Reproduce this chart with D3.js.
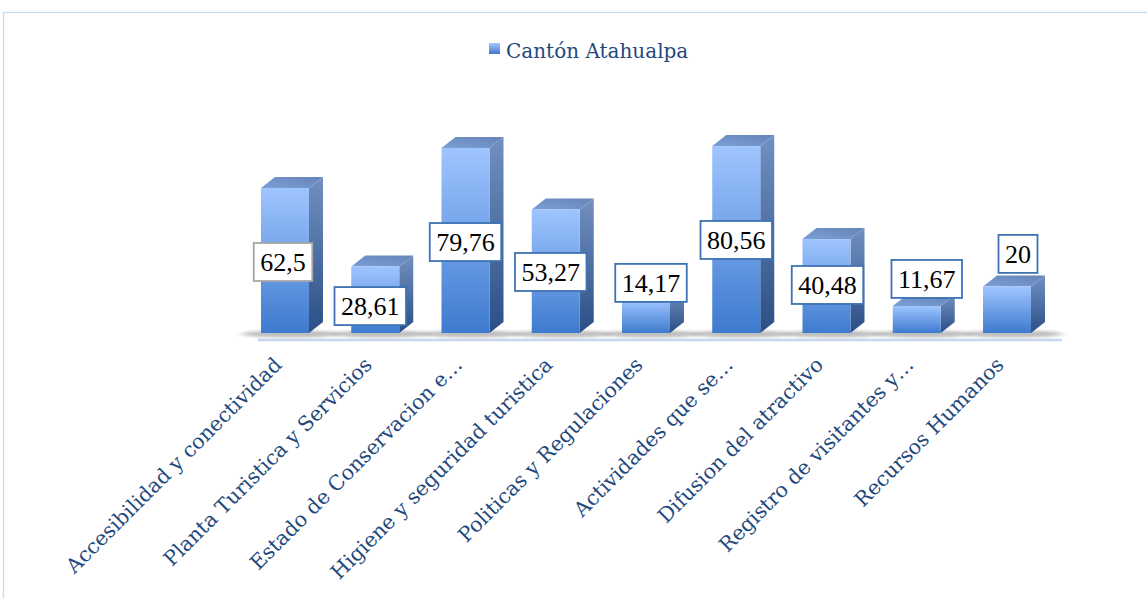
<!DOCTYPE html>
<html>
<head>
<meta charset="utf-8">
<script src="https://cdn.jsdelivr.net/npm/d3@7"></script>
<style>
  html, body { margin: 0; padding: 0; background: #fff; }
  svg { display: block; }
</style>
</head>
<body>
<svg id="chart" width="1147" height="598"></svg>
<script>
// ---- data ----
const categories = [
  "Accesibilidad y conectividad",
  "Planta Turistica y Servicios",
  "Estado de Conservacion e\u2026",
  "Higiene y seguridad turistica",
  "Politicas y Regulaciones",
  "Actividades que se\u2026",
  "Difusion del atractivo",
  "Registro de visitantes y\u2026",
  "Recursos Humanos"
];
const values = [62.5, 28.61, 79.76, 53.27, 14.17, 80.56, 40.48, 11.67, 20];
const valueLabels = ["62,5", "28,61", "79,76", "53,27", "14,17", "80,56", "40,48", "11,67", "20"];
const seriesName = "Cantón Atahualpa";
// label anchor (in value units) and horizontal nudge
const labelAt = [30.6, 11.6, 39.2, 26.3, 21.6, 40.1, 20.7, 23.3, 34.1];
const labelDx = [-2, -5, 0, -5, 5, 0, 1, 10, 11];

// ---- layout ----
const svg = d3.select("#chart");
const W = 1147, H = 598;
const barW = 48, depthX = 14, depthY = -11;

const x = d3.scalePoint().domain(categories).range([285, 1007]);
const y = d3.scaleLinear().domain([0, 100]).range([333, 101]);

const defs = svg.append("defs");
const gFront = defs.append("linearGradient").attr("id", "gFront").attr("x1", 0).attr("y1", 0).attr("x2", 0).attr("y2", 1);
gFront.append("stop").attr("offset", "0%").attr("stop-color", "#9fc5ff");
gFront.append("stop").attr("offset", "100%").attr("stop-color", "#3e7ace");
const gSide = defs.append("linearGradient").attr("id", "gSide").attr("x1", 0).attr("y1", 0).attr("x2", 0).attr("y2", 1);
gSide.append("stop").attr("offset", "0%").attr("stop-color", "#7290c0");
gSide.append("stop").attr("offset", "100%").attr("stop-color", "#2a4f86");
const gTop = defs.append("linearGradient").attr("id", "gTop").attr("x1", 0).attr("y1", 1).attr("x2", 1).attr("y2", 0);
gTop.append("stop").attr("offset", "0%").attr("stop-color", "#7b9fd6");
gTop.append("stop").attr("offset", "100%").attr("stop-color", "#6684b8");
const gLeg = defs.append("linearGradient").attr("id", "gLeg").attr("x1", 0).attr("y1", 0).attr("x2", 0).attr("y2", 1);
gLeg.append("stop").attr("offset", "0%").attr("stop-color", "#a6c8fb");
gLeg.append("stop").attr("offset", "100%").attr("stop-color", "#3f78c8");
const blur = defs.append("filter").attr("id", "shadowBlur").attr("x", "-50%").attr("y", "-200%").attr("width", "200%").attr("height", "500%");
blur.append("feGaussianBlur").attr("stdDeviation", "3 1.5");

// chart frame
svg.append("rect")
  .attr("x", 3.5).attr("y", 12.5)
  .attr("width", W + 20).attr("height", H + 20)
  .attr("fill", "#fff")
  .attr("stroke", "#c9dcf2").attr("stroke-width", 1.3);

// legend
const leg = svg.append("g");
leg.append("rect").attr("x", 489).attr("y", 43).attr("width", 11).attr("height", 11).attr("fill", "url(#gLeg)");
leg.append("text").attr("x", 506).attr("y", 58)
  .attr("font-family", "DejaVu Serif").attr("font-size", 20)
  .attr("fill", "#1f497d").text(seriesName);

// floor line
svg.append("line")
  .attr("x1", 258).attr("x2", 1062).attr("y1", 340).attr("y2", 340)
  .attr("stroke", "#c6d8ef").attr("stroke-width", 2.5);

// shadows
svg.append("g").selectAll("ellipse").data(categories).join("ellipse")
  .attr("cx", d => x(d) + 6)
  .attr("cy", 334)
  .attr("rx", barW / 2 + 26)
  .attr("ry", 3.5)
  .attr("fill", "#8a8a8a")
  .attr("opacity", 0.55)
  .attr("filter", "url(#shadowBlur)");

// bars
const bars = svg.append("g").selectAll("g").data(categories).join("g");
bars.append("path") // side
  .attr("d", (d, i) => {
    const x1 = x(d) + barW / 2, y0 = y(0), yt = y(values[i]);
    return `M${x1},${y0} L${x1 + depthX},${y0 + depthY} L${x1 + depthX},${yt + depthY} L${x1},${yt} Z`;
  })
  .attr("fill", "url(#gSide)");
bars.append("path") // top
  .attr("d", (d, i) => {
    const x0 = x(d) - barW / 2, x1 = x(d) + barW / 2, yt = y(values[i]);
    return `M${x0},${yt} L${x0 + depthX},${yt + depthY} L${x1 + depthX},${yt + depthY} L${x1},${yt} Z`;
  })
  .attr("fill", "url(#gTop)");
bars.append("rect") // front
  .attr("x", d => x(d) - barW / 2)
  .attr("y", (d, i) => y(values[i]))
  .attr("width", barW)
  .attr("height", (d, i) => y(0) - y(values[i]))
  .attr("fill", "url(#gFront)");

// data labels
const lab = svg.append("g").selectAll("g").data(categories).join("g")
  .attr("transform", (d, i) => `translate(${x(d) + labelDx[i]},${y(labelAt[i])})`);
const labText = lab.append("text")
  .attr("text-anchor", "middle").attr("dy", "0.35em")
  .attr("font-family", "Liberation Serif").attr("font-size", 26)
  .attr("fill", "#000")
  .text((d, i) => valueLabels[i]);
lab.insert("rect", "text")
  .each(function (d, i) {
    const w = labText.nodes()[i].getComputedTextLength() + 13;
    d3.select(this)
      .attr("x", -w / 2).attr("y", -19)
      .attr("width", w).attr("height", 38);
  })
  .attr("fill", "#fff")
  .attr("stroke", (d, i) => i === 0 ? "#a6a6a6" : "#3d72b4")
  .attr("stroke-width", 1.8);

// category labels
svg.append("g").selectAll("text").data(categories).join("text")
  .attr("transform", d => `translate(${x(d) - 2},${366}) rotate(-45)`)
  .attr("text-anchor", "end")
  .attr("font-family", "DejaVu Serif").attr("font-size", 20.5)
  .attr("fill", "#1f497d")
  .text(d => d);
</script>
</body>
</html>
